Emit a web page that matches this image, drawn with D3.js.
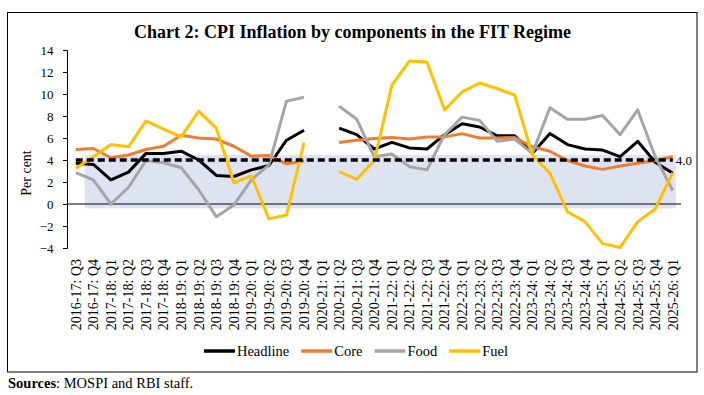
<!DOCTYPE html>
<html>
<head>
<meta charset="utf-8">
<script src="https://cdn.jsdelivr.net/npm/d3@7"></script>
<style>
  body { margin: 0; background: #fff; }
  svg text { font-family: "Liberation Serif", "DejaVu Serif", serif; }
</style>
</head>
<body>
<div id="chart"></div>
<script>
// Quarters shown on the x axis
const quarters = [
  "2016-17: Q3", "2016-17: Q4",
  "2017-18: Q1", "2017-18: Q2", "2017-18: Q3", "2017-18: Q4",
  "2018-19: Q1", "2018-19: Q2", "2018-19: Q3", "2018-19: Q4",
  "2019-20: Q1", "2019-20: Q2", "2019-20: Q3", "2019-20: Q4",
  "2020-21: Q1", "2020-21: Q2", "2020-21: Q3", "2020-21: Q4",
  "2021-22: Q1", "2021-22: Q2", "2021-22: Q3", "2021-22: Q4",
  "2022-23: Q1", "2022-23: Q2", "2022-23: Q3", "2022-23: Q4",
  "2023-24: Q1", "2023-24: Q2", "2023-24: Q3", "2023-24: Q4",
  "2024-25: Q1", "2024-25: Q2", "2024-25: Q3", "2024-25: Q4",
  "2025-26: Q1"
];

// Series values (per cent), null = no data for 2020-21: Q1
const headline = [3.7, 3.6, 2.2, 2.9, 4.6, 4.6, 4.8, 4.0, 2.6, 2.5, 3.1, 3.5, 5.8, 6.7, null,
  6.9, 6.3, 5.0, 5.6, 5.1, 5.0, 6.3, 7.3, 7.0, 6.2, 6.2, 4.6, 6.4, 5.4, 5.0, 4.9, 4.3, 5.7, 3.8, 2.8];
const core = [4.95, 5.05, 4.2, 4.45, 4.95, 5.25, 6.25, 6.0, 5.9, 5.25, 4.35, 4.4, 3.65, 3.9, null,
  5.6, 5.8, 5.95, 6.05, 5.9, 6.1, 6.1, 6.4, 6.0, 6.0, 6.05, 5.2, 4.8, 3.95, 3.45, 3.15, 3.45, 3.7, 3.95, 4.3];
const food = [2.85, 2.2, 0.0, 1.5, 3.95, 3.75, 3.3, 1.3, -1.15, -0.1, 2.2, 3.55, 9.35, 9.7, null,
  8.9, 7.7, 4.3, 4.55, 3.4, 3.1, 6.3, 7.9, 7.6, 5.7, 5.9, 4.6, 8.75, 7.7, 7.7, 8.05, 6.3, 8.55, 4.3, 1.2];
const fuel = [3.25, 4.3, 5.4, 5.2, 7.55, 6.8, 6.1, 8.45, 6.9, 1.95, 2.55, -1.35, -1.0, 5.6, null,
  2.95, 2.25, 3.95, 10.8, 13.0, 12.9, 8.55, 10.2, 11.0, 10.5, 9.9, 4.45, 2.8, -0.7, -1.6, -3.6, -3.95, -1.6, -0.45, 2.85];

// Inflation target and the shaded band behind the lines
const target = 4.0;
const band = [-0.4, 4.45];

const yTicks = [-4, -2, 0, 2, 4, 6, 8, 10, 12, 14];

const series = [
  { name: "Headline", values: headline, color: "#000000" },
  { name: "Core", values: core, color: "#ED7D31" },
  { name: "Food", values: food, color: "#A5A5A5" },
  { name: "Fuel", values: fuel, color: "#FFC000" }
];

const serif = "Liberation Serif";
const width = 704, height = 395;
const svg = d3.select("#chart").append("svg")
  .attr("width", width)
  .attr("height", height);

// Outer frame
svg.append("rect")
  .attr("x", 7.5).attr("y", 12.5)
  .attr("width", 689.5).attr("height", 359.5)
  .attr("fill", "none").attr("stroke", "#000").attr("stroke-width", 1);

// Title
svg.append("text")
  .attr("x", 352.5).attr("y", 38)
  .attr("text-anchor", "middle")
  .attr("font-family", serif)
  .attr("font-size", 18)
  .attr("font-weight", "bold")
  .text("Chart 2: CPI Inflation by components in the FIT Regime");

// Scales
const x = d3.scaleBand().domain(quarters).range([67, 681.6]);
const y = d3.scaleLinear().domain([-4, 14]).range([248, 50]);
const cx = d => x(d) + x.bandwidth() / 2;

// Shaded band
svg.append("rect")
  .attr("x", x(quarters[1]))
  .attr("y", y(band[1]))
  .attr("width", cx(quarters[quarters.length - 1]) + 3 - x(quarters[1]))
  .attr("height", y(band[0]) - y(band[1]))
  .attr("fill", "#dee3f1");

// Zero line
svg.append("line")
  .attr("x1", 67).attr("x2", 681)
  .attr("y1", y(0)).attr("y2", y(0))
  .attr("stroke", "#000").attr("stroke-width", 1);

// Y axis
const yAxis = svg.append("g")
  .attr("transform", "translate(67,0)")
  .call(d3.axisLeft(y).tickValues(yTicks).tickSize(4).tickPadding(9.5).tickFormat(d3.format("d")));
yAxis.attr("font-family", serif).attr("font-size", 13);
yAxis.selectAll("text").attr("fill", "#000");
yAxis.selectAll("line, path").attr("stroke", "#000");

svg.append("text")
  .attr("transform", "translate(31,173) rotate(-90)")
  .attr("text-anchor", "middle")
  .attr("font-family", serif)
  .attr("font-size", 14)
  .text("Per cent");

// X labels, rotated
svg.append("g")
  .selectAll("text")
  .data(quarters)
  .enter()
  .append("text")
  .attr("transform", d => `translate(${cx(d)},259) rotate(-90)`)
  .attr("dy", "0.35em")
  .attr("text-anchor", "end")
  .attr("font-family", serif)
  .attr("font-size", 14)
  .text(d => d);

// Series lines
const line = d3.line()
  .defined(d => d.v !== null)
  .x(d => cx(d.q))
  .y(d => y(d.v));

svg.selectAll(".series")
  .data(series)
  .enter()
  .append("path")
  .attr("class", "series")
  .attr("fill", "none")
  .attr("stroke", s => s.color)
  .attr("stroke-width", 3)
  .attr("stroke-linejoin", "round")
  .attr("d", s => line(s.values.map((v, i) => ({ q: quarters[i], v: v }))));

// Target line
svg.append("line")
  .attr("x1", cx(quarters[0]))
  .attr("x2", cx(quarters[quarters.length - 1]))
  .attr("y1", y(target)).attr("y2", y(target))
  .attr("stroke", "#000")
  .attr("stroke-width", 3.5)
  .attr("stroke-dasharray", "7,4");

svg.append("text")
  .attr("x", cx(quarters[quarters.length - 1]) + 3)
  .attr("y", y(target))
  .attr("dy", "0.35em")
  .attr("font-family", serif)
  .attr("font-size", 13)
  .text(target.toFixed(1));

// Legend, centred under the chart
const legend = svg.append("g");
let lx = 0;
series.forEach(s => {
  const g = legend.append("g").attr("transform", `translate(${lx},0)`);
  g.append("line")
    .attr("x1", 0).attr("x2", 31)
    .attr("y1", 0).attr("y2", 0)
    .attr("stroke", s.color)
    .attr("stroke-width", 3.5);
  const t = g.append("text")
    .attr("x", 33).attr("dy", "0.33em")
    .attr("font-family", serif)
    .attr("font-size", 14.5)
    .attr("font-weight", "normal")
    .text(s.name);
  lx += 33 + t.node().getComputedTextLength() + 12;
});
const legendWidth = lx - 12;
legend.attr("transform", `translate(${356 - legendWidth / 2},351)`);

// Source note
const src = svg.append("text")
  .attr("x", 8).attr("y", 387.5)
  .attr("font-family", serif)
  .attr("font-size", 14.5);
src.append("tspan").attr("font-weight", "bold").text("Sources");
src.append("tspan").text(": MOSPI and RBI staff.");
</script>
</body>
</html>
